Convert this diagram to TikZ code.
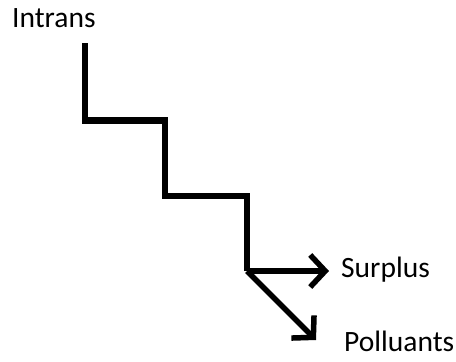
\documentclass[tikz,border=0pt]{standalone}
\usepackage{fontspec}
\setmainfont{Carlito}
\usetikzlibrary{arrows.meta}
\begin{document}
\begin{tikzpicture}[
  x=1pt, y=-1pt,
  lbl/.style={anchor=base west, inner sep=0pt, font=\fontsize{29.5}{35}\selectfont},
  stair/.style={line width=6.5pt},
  arr/.style={line width=5.5pt, -{Straight Barb[length=15pt, width=32pt]}}
]
\useasboundingbox (0,0) rectangle (456,362);
\node[lbl] (intrans) at (12,27) {Intrans};
\node[lbl] (surplus) at (341,277) {Surplus};
\node[lbl] (polluants) at (344,351) {Polluants};
\coordinate (top) at (85,43);
\coordinate (split) at (247,271);
\coordinate (surtip) at (329,271);
\coordinate (poltip) at (316,340);
\draw[stair] (top) -- (85,120.5) -- (165,120.5) -- (165,196) -- (247,196) -- (split);
\draw[arr] (split) -- (surtip);
\draw[arr] (split) -- (poltip);
\end{tikzpicture}
\end{document}
